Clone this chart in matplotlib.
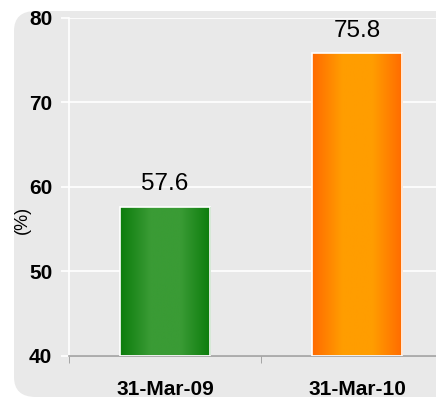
import numpy as np
import matplotlib.pyplot as plt
from matplotlib.patches import FancyBboxPatch
from matplotlib.colors import LinearSegmentedColormap

plt.rcParams['font.family'] = ['Liberation Sans', 'DejaVu Sans']

# Values shown on the chart
dates = ["31-Mar-09", "31-Mar-10"]
values = [57.6, 75.8]
y_ticks = [40, 50, 60, 70, 80]

# edge / centre colours for each bar's horizontal shading
bar_shades = [("#0b7c0b", "#3a9b35"), ("#ff6a00", "#ff9d00")]

fig = plt.figure(figsize=(4.36, 3.99), dpi=100)
fig.patch.set_facecolor("white")

# rounded light grey panel behind the chart
panel = FancyBboxPatch((14 / 436, 2 / 399), 1.2, 386 / 399,
                       boxstyle="round,pad=0,rounding_size=0.05",
                       transform=fig.transFigure, facecolor="#e9e9e9",
                       edgecolor="none", zorder=-10)
fig.patches.append(panel)

ax = fig.add_axes([69 / 436, 1 - 356 / 399, 1 - 69 / 436, (356 - 18) / 399])
ax.set_facecolor("none")

x = np.arange(len(dates))
bars = ax.bar(x, [v - 40 for v in values], bottom=40, width=0.47,
              facecolor="none", edgecolor="white", linewidth=1.2, zorder=3)

# horizontal gradient inside each bar, clipped to the bar outline
for bar, (edge, mid) in zip(bars, bar_shades):
    cmap = LinearSegmentedColormap.from_list("shade", [edge, mid, mid, edge])
    grad = np.linspace(0, 1, 256).reshape(1, -1)
    x0, y0 = bar.get_x(), bar.get_y()
    im = ax.imshow(grad, cmap=cmap, aspect="auto", zorder=2,
                   extent=[x0, x0 + bar.get_width(), y0, y0 + bar.get_height()])
    im.set_clip_path(bar)

for xi, v in zip(x, values):
    ax.text(xi, v + 1.4, f"{v}", ha="center", va="bottom", fontsize=17.5)

ax.set_xlim(-0.5, 1.41)
ax.set_ylim(40, 80)
ax.set_yticks(y_ticks)
ax.set_yticklabels([str(t) for t in y_ticks], fontsize=15, fontweight="bold")
ax.yaxis.grid(True, color="white", linewidth=1.2)
ax.set_axisbelow(True)
ax.tick_params(axis="y", colors="white", length=6, width=1.2, labelcolor="black", pad=6)

ax.set_xticks(x)
ax.set_xticklabels(dates, fontsize=15, fontweight="bold")
ax.set_xticks([-0.5, 0.5], minor=True)
ax.tick_params(axis="x", which="major", length=0, pad=17)
ax.tick_params(axis="x", which="minor", length=5, color="#999999")

for side in ["top", "right"]:
    ax.spines[side].set_visible(False)
ax.spines["left"].set_color("white")
ax.spines["left"].set_linewidth(1.2)
ax.spines["bottom"].set_color("#a0a0a0")
ax.spines["bottom"].set_linewidth(1.2)

fig.text(22 / 436, 1 - 220 / 399, "(%)", rotation=90, ha="center", va="center", fontsize=13)

fig.savefig("out.png", dpi=100)
